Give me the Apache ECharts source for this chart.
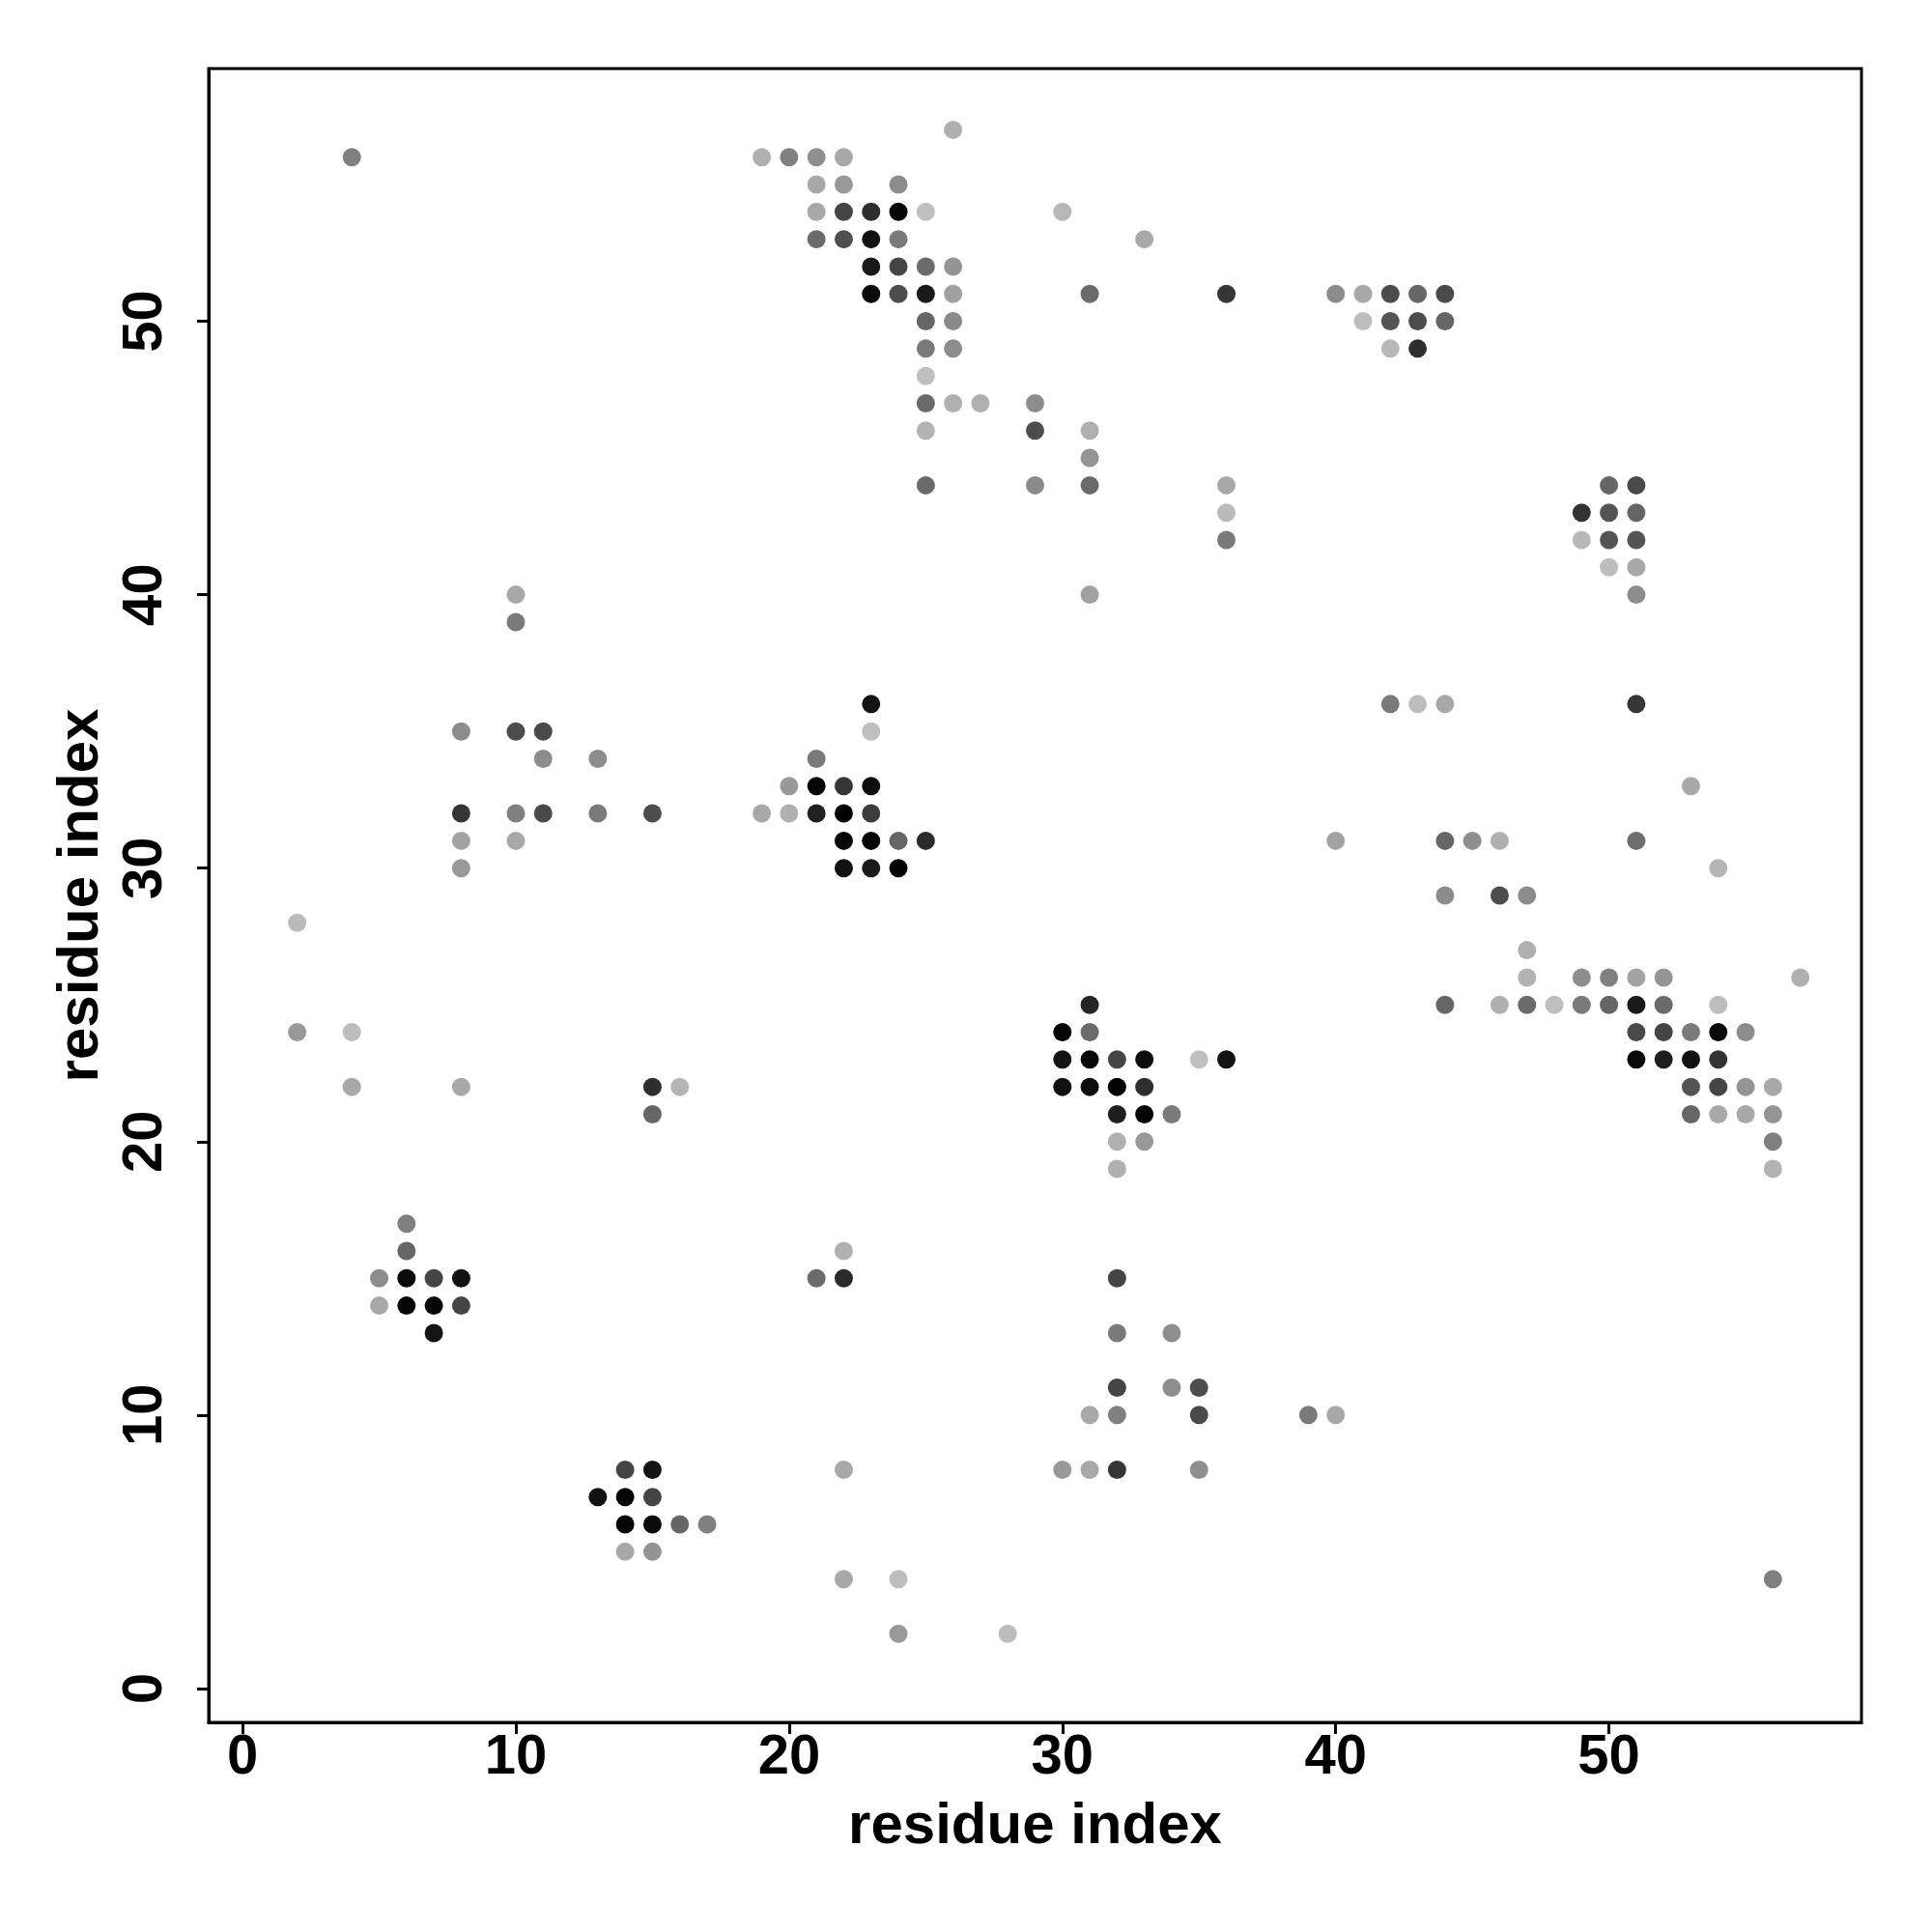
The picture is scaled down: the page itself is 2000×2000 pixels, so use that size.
<!DOCTYPE html>
<html>
<head>
<meta charset="utf-8">
<script src="https://cdn.jsdelivr.net/npm/echarts@6/dist/echarts.min.js"></script>
<style>html,body{margin:0;padding:0;background:#fff}#chart{width:2000px;height:2000px}</style>
</head>
<body>
<div id="chart"></div>
<script>
// residue i (x), residue j (y), contact probability (drawn as grey level)
var resI = [26,4,19,20,21,22,21,22,24,21,22,23,24,25,30,21,22,23,24,33,23,24,25,26,23,24,25,26,31,36,40,41,42,43,44,25,26,41,42,43,44,25,26,42,43,25,25,26,27,29,25,29,31,31,25,29,31,36,50,51,36,49,50,51,36,49,50,51,50,51,10,31,51,10,
  23,42,43,44,51,8,10,11,23,11,13,21,20,21,22,23,53,8,10,11,13,15,19,20,21,22,23,8,10,22,23,24,25,40,44,45,46,51,8,22,23,24,54,44,46,47,2,47,47,49,50,51,52,57,
  31,44,46,47,48,49,50,51,52,54,2,4,30,31,51,52,53,54,55,30,31,32,33,35,36,51,52,53,54,4,8,15,16,30,31,32,33,53,54,55,56,15,32,33,34,53,54,55,56,32,33,56,32,56,
  6,6,22,5,6,7,8,21,22,32,5,6,7,8,7,32,34,32,34,35,31,32,35,39,40,14,15,22,30,31,32,35,13,14,15,14,15,16,17,14,15,22,24,56,24,28];
var resJ = [57,56,56,56,56,56,55,55,55,54,54,54,54,54,54,53,53,53,53,53,52,52,52,52,51,51,51,51,51,51,51,51,51,51,51,50,50,50,50,50,50,49,49,49,49,48,47,47,47,47,46,46,46,45,44,44,44,44,44,44,43,43,43,43,42,42,42,42,41,41,40,40,40,39,
  36,36,36,36,36,35,35,35,35,34,34,34,33,33,33,33,33,32,32,32,32,32,32,32,32,32,32,31,31,31,31,31,31,31,31,31,31,31,30,30,30,30,30,29,29,29,28,27,26,26,26,26,26,26,
  25,25,25,25,25,25,25,25,25,25,24,24,24,24,24,24,24,24,24,23,23,23,23,23,23,23,23,23,23,22,22,22,22,22,22,22,22,22,22,22,22,21,21,21,21,21,21,21,21,20,20,20,19,19,
  17,16,16,15,15,15,15,15,15,15,14,14,14,14,13,13,13,11,11,11,10,10,10,10,10,8,8,8,8,8,8,8,7,7,7,6,6,6,6,5,5,4,4,4,2,2];
var prob = [0.31,0.50,0.31,0.50,0.44,0.34,0.34,0.40,0.45,0.34,0.73,0.82,0.97,0.25,0.28,0.58,0.69,0.93,0.52,0.34,0.90,0.73,0.58,0.42,0.96,0.70,0.90,0.37,0.58,0.79,0.45,0.34,0.70,0.60,0.71,0.60,0.46,0.26,0.67,0.70,0.60,0.52,0.45,0.28,0.82,0.25,0.58,0.31,0.31,0.45,0.30,0.70,0.31,0.42,0.58,0.46,0.58,0.34,0.60,0.71,0.27,0.80,0.67,0.60,0.52,0.28,0.67,0.67,0.26,0.34,0.34,0.37,0.45,0.52,
  0.92,0.52,0.26,0.34,0.79,0.45,0.70,0.71,0.25,0.45,0.45,0.52,0.40,0.98,0.79,0.95,0.34,0.79,0.50,0.71,0.52,0.70,0.34,0.31,0.87,1.00,0.76,0.36,0.34,0.97,0.98,0.60,0.83,0.36,0.60,0.44,0.31,0.57,0.40,0.93,0.90,0.99,0.29,0.45,0.70,0.45,0.27,0.31,0.30,0.45,0.50,0.36,0.42,0.31,
  0.85,0.60,0.31,0.58,0.25,0.52,0.60,0.90,0.58,0.26,0.40,0.26,0.98,0.58,0.71,0.73,0.52,0.96,0.45,0.92,0.98,0.73,0.95,0.25,0.92,0.96,0.88,0.93,0.80,0.34,0.34,0.82,0.29,0.93,0.95,0.99,0.82,0.67,0.73,0.42,0.34,0.60,0.88,0.99,0.52,0.60,0.34,0.34,0.42,0.31,0.40,0.50,0.31,0.30,
  0.50,0.60,0.31,0.45,0.96,0.73,0.93,0.58,0.83,0.73,0.34,0.98,0.98,0.73,0.92,0.52,0.44,0.73,0.44,0.70,0.34,0.50,0.71,0.52,0.34,0.73,0.92,0.34,0.40,0.34,0.79,0.44,0.93,0.98,0.73,0.98,0.96,0.60,0.50,0.34,0.42,0.34,0.26,0.50,0.40,0.26];
var tickValues = [0, 10, 20, 30, 40, 50];
var axisTitle = 'residue index';

var data = [];
for (var k = 0; k < resI.length; k++) data.push([resI[k], resJ[k], prob[k]]);

var font = 'Liberation Sans, Arial, Helvetica, sans-serif';
var chart = echarts.init(document.getElementById('chart'), null, {renderer: 'canvas'});
chart.setOption({
  animation: false,
  backgroundColor: '#ffffff',
  grid: {left: 216, top: 71, width: 1711, height: 1712, show: true, borderColor: '#000', borderWidth: 3, backgroundColor: 'transparent'},
  visualMap: {show: false, dimension: 2, min: 0, max: 1, inRange: {color: ['#ffffff', '#000000']}},
  xAxis: {
    type: 'value', min: -1.24, max: 59.24,
    axisLine: {show: true, onZero: false, lineStyle: {color: '#000', width: 3}},
    splitLine: {show: false},
    axisTick: {show: true, customValues: tickValues, length: 12, lineStyle: {color: '#000', width: 3}},
    axisLabel: {customValues: tickValues, fontSize: 58, fontWeight: 'bold', color: '#000', fontFamily: font, margin: 8},
    name: axisTitle, nameLocation: 'middle', nameGap: 78,
    nameTextStyle: {fontSize: 60, fontWeight: 'bold', color: '#000', fontFamily: font}
  },
  yAxis: {
    type: 'value', min: -1.24, max: 59.24,
    axisLine: {show: true, onZero: false, lineStyle: {color: '#000', width: 3}},
    splitLine: {show: false},
    axisTick: {show: true, customValues: tickValues, length: 12, lineStyle: {color: '#000', width: 3}},
    axisLabel: {customValues: tickValues, rotate: 90, fontSize: 58, fontWeight: 'bold', color: '#000', fontFamily: font, margin: 36},
    name: axisTitle, nameLocation: 'middle', nameGap: 100,
    nameTextStyle: {fontSize: 60, fontWeight: 'bold', color: '#000', fontFamily: font}
  },
  series: [{type: 'scatter', data: data, symbol: 'circle', symbolSize: 19, itemStyle: {opacity: 1}}]
});
</script>
</body>
</html>
